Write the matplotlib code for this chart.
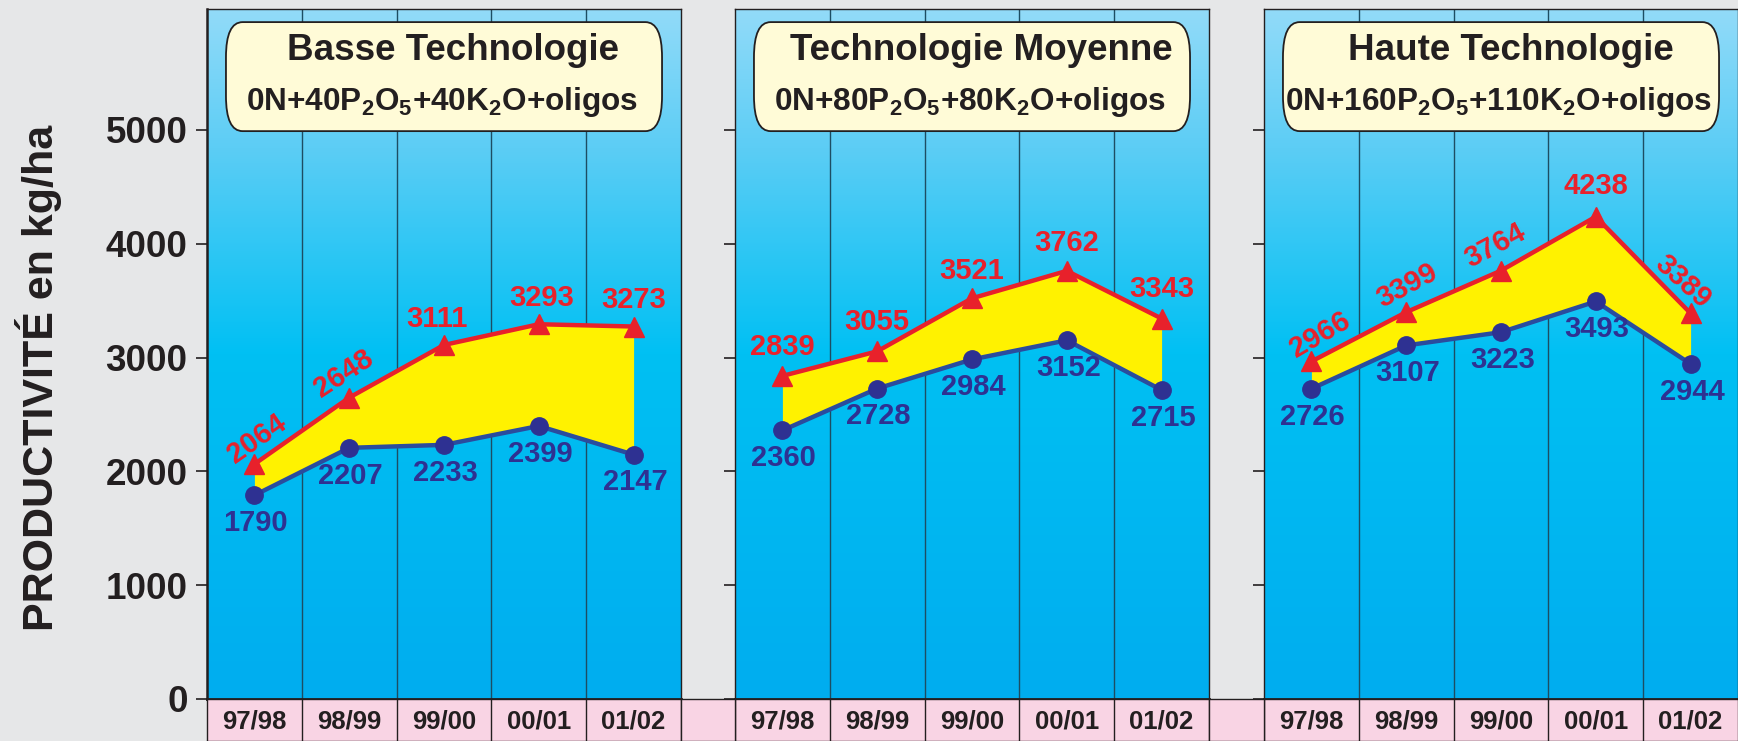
import matplotlib.pyplot as plt
import numpy as np
from matplotlib.colors import LinearSegmentedColormap
from matplotlib.patches import FancyBboxPatch, Rectangle

plt.rcParams['font.family'] = ['Liberation Sans', 'DejaVu Sans']
plt.rcParams['font.weight'] = 'bold'
plt.rcParams['mathtext.fontset'] = 'custom'
plt.rcParams['mathtext.rm'] = 'Liberation Sans:bold'
plt.rcParams['mathtext.it'] = 'Liberation Sans:bold'
plt.rcParams['mathtext.bf'] = 'Liberation Sans:bold'
plt.rcParams['mathtext.default'] = 'rm'

SEASONS = ['97/98', '98/99', '99/00', '00/01', '01/02']
TITLES = ['Basse Technologie', 'Technologie Moyenne', 'Haute Technologie']
FORMULAS = [r'0N+40P$_2$O$_5$+40K$_2$O+oligos',
            r'0N+80P$_2$O$_5$+80K$_2$O+oligos',
            r'0N+160P$_2$O$_5$+110K$_2$O+oligos']

HIGH_BASSE = [2064, 2648, 3111, 3293, 3273]
LOW_BASSE = [1790, 2207, 2233, 2399, 2147]
HIGH_MOYENNE = [2839, 3055, 3521, 3762, 3343]
LOW_MOYENNE = [2360, 2728, 2984, 3152, 2715]
HIGH_HAUTE = [2966, 3399, 3764, 4238, 3389]
LOW_HAUTE = [2726, 3107, 3223, 3493, 2944]

Y_TICKS = [0, 1000, 2000, 3000, 4000, 5000]
Y_LABEL = 'PRODUCTIVITÉ en kg/ha'

# label placement (offset in points, rotation) for the red values
RED_OFFSETS = [[(2, 18), (-4, 17), (-5, 19), (2, 19), (0, 19)],
               [(0, 21), (0, 21), (0, 20), (0, 20), (0, 21)],
               [(6, 19), (1, 19), (-4, 18), (0, 22), (-6, 23)]]
RED_ROT = [[35, 33, 0, 0, 0],
           [0, 0, 0, 0, 0],
           [30, 28, 28, 0, -42]]
BLUE_OFFSET = (1, -20)

RED = '#e8212b'
NAVY = '#2e3192'
BLUE_LINE = '#2a4c9e'
YELLOW = '#fff200'
DARK = '#231f20'
GREY = '#e6e7e8'
PINK = '#f9d4e4'
CREAM = '#fffbd7'

W, H = 1738, 741
PANEL_X = [207, 735, 1264]
PANEL_W = 474
TOP, BOTTOM, BAND_H = 9, 699, 42
Y_MAX = 6063

fig = plt.figure(figsize=(W / 100, H / 100), dpi=100)
fig.patch.set_facecolor(GREY)

sky = LinearSegmentedColormap.from_list(
    'sky', [(0.0, '#00adef'), (0.5, '#00c0f3'), (0.8, '#5ccdf5'), (1.0, '#92dbf9')])
grad = np.linspace(0, 1, 256).reshape(-1, 1)

panels = [(HIGH_BASSE, LOW_BASSE), (HIGH_MOYENNE, LOW_MOYENNE), (HIGH_HAUTE, LOW_HAUTE)]
x = np.arange(1, len(SEASONS) + 1)

for i, (high, low) in enumerate(panels):
    left = PANEL_X[i] / W
    ax = fig.add_axes([left, 1 - BOTTOM / H, PANEL_W / W, (BOTTOM - TOP) / H])
    ax.set_xlim(0.5, 5.5)
    ax.set_ylim(0, Y_MAX)
    ax.imshow(grad, cmap=sky, origin='lower', aspect='auto',
              extent=[0.5, 5.5, 0, Y_MAX], zorder=0)
    for b in np.arange(1.5, 5.5, 1):
        ax.axvline(b, color='#1d4d63', lw=1, zorder=1)

    ax.fill_between(x, low, high, color=YELLOW, zorder=2, lw=0)
    ax.plot(x, low, color=BLUE_LINE, lw=3.2, zorder=3)
    ax.plot(x, low, 'o', color=NAVY, ms=12.5, zorder=4)
    ax.plot(x, high, color=RED, lw=3.2, zorder=5)
    ax.plot(x, high, '^', color=RED, ms=14, zorder=6)

    for j in range(len(x)):
        ax.annotate(str(high[j]), (x[j], high[j]), xytext=RED_OFFSETS[i][j],
                    textcoords='offset points', ha='center', va='center',
                    rotation=RED_ROT[i][j], rotation_mode='anchor',
                    color=RED, fontsize=21, fontweight='bold', zorder=7)
        ax.annotate(str(low[j]), (x[j], low[j]), xytext=BLUE_OFFSET,
                    textcoords='offset points', ha='center', va='center',
                    color=NAVY, fontsize=21, fontweight='bold', zorder=7)

    ax.set_xticks([])
    ax.set_yticks(Y_TICKS)
    ax.tick_params(axis='y', direction='out', length=8, width=1.2, color=DARK, pad=6)
    if i == 0:
        ax.set_yticklabels([str(t) for t in Y_TICKS], fontsize=26.5,
                           fontweight='bold', color=DARK)
    else:
        ax.set_yticklabels([])
    for sp in ax.spines.values():
        sp.set_color(DARK)
        sp.set_linewidth(1.0)
        sp.set_zorder(8)
    ax.spines['bottom'].set_linewidth(2)
    if i == 0:
        ax.spines['left'].set_linewidth(1.8)

    # title box
    box = FancyBboxPatch((0.04, 0.823), 0.92, 0.158, transform=ax.transAxes,
                         boxstyle='round,pad=0,rounding_size=0.035',
                         facecolor=CREAM, edgecolor=DARK, lw=1.3, zorder=9,
                         mutation_aspect=690 / 474)
    ax.add_patch(box)
    ax.text(0.52, 0.926, TITLES[i], transform=ax.transAxes, ha='center',
            va='baseline', fontsize=26.5, fontweight='bold', color=DARK, zorder=10)
    ax.text(0.495, 0.853, FORMULAS[i], transform=ax.transAxes, ha='center',
            va='baseline', fontsize=22.7, fontweight='bold', color=DARK, zorder=10)

    # season band under the panel
    band = fig.add_axes([left, 0, PANEL_W / W, BAND_H / H])
    band.set_facecolor(PINK)
    band.set_xlim(0.5, 5.5)
    band.set_ylim(0, 1)
    for b in np.arange(1.5, 5.5, 1):
        band.axvline(b, color=DARK, lw=1)
    for j, s in enumerate(SEASONS):
        band.text(x[j], 0.47, s, ha='center', va='center', fontsize=18.5,
                  fontweight='bold', color=DARK)
    band.set_xticks([])
    band.set_yticks([])
    for sp in band.spines.values():
        sp.set_color(DARK)
        sp.set_linewidth(1)

# pink cells in the gaps between panels
for i in range(2):
    gx = (PANEL_X[i] + PANEL_W) / W
    gw = (PANEL_X[i + 1] - PANEL_X[i] - PANEL_W) / W
    fig.patches.append(Rectangle((gx, 0), gw, BAND_H / H, transform=fig.transFigure,
                                 facecolor=PINK, edgecolor=DARK, lw=1, zorder=0))

fig.text(39 / W, 1 - 378 / H, Y_LABEL, rotation=90, ha='center', va='center',
         fontsize=31, fontweight='bold', color=DARK)

fig.savefig('out.png', dpi=100, facecolor=GREY)
